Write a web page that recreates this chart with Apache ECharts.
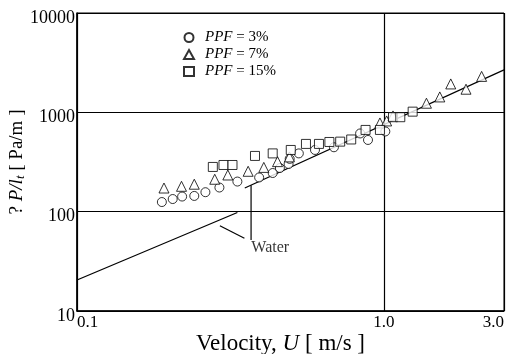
<!DOCTYPE html>
<html>
<head>
<meta charset="utf-8">
<script src="https://cdn.jsdelivr.net/npm/echarts@6/dist/echarts.min.js"></script>
<style>
  html, body { margin: 0; padding: 0; background: #fff; }
  #chart { width: 509px; height: 354px; }
</style>
</head>
<body>
<div id="chart"></div>
<script>
// 读图得到的数据 (速度 m/s, 压降 Pa/m)
const ppf3 = [
  [0.189, 125], [0.205, 134], [0.220, 142], [0.241, 144], [0.262, 157],
  [0.291, 175], [0.333, 201], [0.392, 221], [0.434, 245], [0.458, 275],
  [0.489, 302], [0.493, 340], [0.528, 386], [0.596, 418], [0.687, 445],
  [0.836, 613], [0.887, 527], [1.01, 642]
];
const ppf7 = [
  [0.192, 173], [0.219, 180], [0.241, 189], [0.281, 212], [0.310, 234],
  [0.361, 255], [0.406, 279], [0.450, 319], [0.492, 356], [0.970, 782],
  [1.02, 819], [1.07, 920], [1.375, 1235], [1.52, 1429], [1.65, 1932],
  [1.85, 1709], [2.08, 2300]
];
const ppf15 = [
  [0.277, 282], [0.300, 295], [0.321, 295], [0.380, 364], [0.434, 386],
  [0.497, 418], [0.557, 481], [0.614, 481], [0.664, 503], [0.720, 507],
  [0.782, 533], [0.871, 665], [0.970, 665], [1.07, 893], [1.13, 893],
  [1.24, 1016]
];
const waterLow = [[0.1, 20.5], [0.333, 98]];
const waterHigh = [[0.352, 173], [2.46, 2673]];
const leaderA = [[0.369, 184], [0.369, 52]];
const leaderB = [[0.292, 72], [0.351, 54]];
const waterText = [[0.426, 43]];

const xMin = 0.1;
const xMax = 2.46;
const xTicks = [0.1, 1, xMax];
const xTickText = ['0.1', '1.0', '3.0'];
const yTicks = [10, 100, 1000, 10000];

const font = '"Liberation Serif", "Times New Roman", serif';

const chart = echarts.init(document.getElementById('chart'));

const pointStyle = { color: '#fff', borderColor: '#000', borderWidth: 1 };
const lineStyle = { color: '#000', width: 1.2 };

function annoLine(data) {
  return {
    type: 'line', data: data, symbol: 'none', silent: true, z: 2,
    lineStyle: lineStyle, animation: false
  };
}

chart.setOption({
  backgroundColor: '#fff',
  animation: false,
  textStyle: { fontFamily: font, color: '#000' },
  grid: {
    left: 77, right: 5, top: 13, bottom: 43,
    containLabel: false, outerBoundsMode: 'none',
    show: true, borderColor: '#000', borderWidth: 1
  },
  legend: {
    data: ['PPF = 3%', 'PPF = 7%', 'PPF = 15%'],
    orient: 'vertical',
    left: 178, top: 25,
    itemWidth: 10, itemHeight: 9, itemGap: 2,
    formatter: name => name.replace('PPF', '{i|PPF}'),
    textStyle: {
      fontFamily: font, fontSize: 15, color: '#000',
      padding: [0, 0, 0, 6],
      rich: { i: { fontFamily: font, fontSize: 15, fontStyle: 'italic' } }
    }
  },
  xAxis: {
    type: 'log', logBase: 10, min: xMin, max: xMax,
    name: 'Velocity, {i|U} [ m/s ]',
    nameLocation: 'middle', nameGap: 21, nameMoveOverlap: false,
    nameTextStyle: {
      fontFamily: font, fontSize: 23, color: '#000', padding: [0, 20, 0, 0],
      rich: { i: { fontFamily: font, fontSize: 23, fontStyle: 'italic' } }
    },
    axisLine: { lineStyle: { color: '#000', width: 1.5 } },
    axisTick: { show: false, customValues: xTicks },
    splitLine: { show: true, lineStyle: { color: '#000', width: 1.2 } },
    axisLabel: {
      customValues: xTicks,
      formatter: v => xTickText[xTicks.findIndex(t => Math.abs(t - v) < 1e-6)] || '',
      fontFamily: font, fontSize: 17, color: '#000', margin: 3,
      alignMinLabel: 'left', alignMaxLabel: 'right'
    }
  },
  yAxis: {
    type: 'log', logBase: 10, min: 10, max: 10000,
    name: '? {i|P/l}{s|t} [ Pa/m ]',
    nameLocation: 'middle', nameRotate: 90, nameGap: 50, nameMoveOverlap: false,
    nameTextStyle: {
      fontFamily: font, fontSize: 19, color: '#000',
      rich: {
        i: { fontFamily: font, fontSize: 19, fontStyle: 'italic' },
        s: { fontFamily: font, fontSize: 13, fontStyle: 'italic', verticalAlign: 'bottom', padding: [7, 0, 0, 0] }
      }
    },
    axisLine: { lineStyle: { color: '#000', width: 1.5 } },
    axisTick: { show: false, customValues: yTicks },
    splitLine: { show: true, lineStyle: { color: '#000', width: 1.2 } },
    axisLabel: {
      customValues: yTicks,
      formatter: v => String(Math.round(v)),
      fontFamily: font, fontSize: 18, color: '#000', margin: 2,
      verticalAlign: 'top', lineHeight: 10
    }
  },
  series: [
    annoLine(waterLow),
    annoLine(waterHigh),
    annoLine(leaderA),
    annoLine(leaderB),
    {
      type: 'scatter', data: waterText, symbolSize: 0, silent: true,
      label: {
        show: true, position: 'inside', formatter: 'Water',
        fontFamily: font, fontSize: 16, color: '#000'
      }
    },
    {
      name: 'PPF = 3%', type: 'scatter', data: ppf3, z: 5,
      symbol: 'circle', symbolSize: 9, itemStyle: pointStyle
    },
    {
      name: 'PPF = 7%', type: 'scatter', data: ppf7, z: 5,
      symbol: 'triangle', symbolSize: 10, itemStyle: pointStyle
    },
    {
      name: 'PPF = 15%', type: 'scatter', data: ppf15, z: 5,
      symbol: 'rect', symbolSize: 9, itemStyle: pointStyle
    }
  ]
});
</script>
</body>
</html>
